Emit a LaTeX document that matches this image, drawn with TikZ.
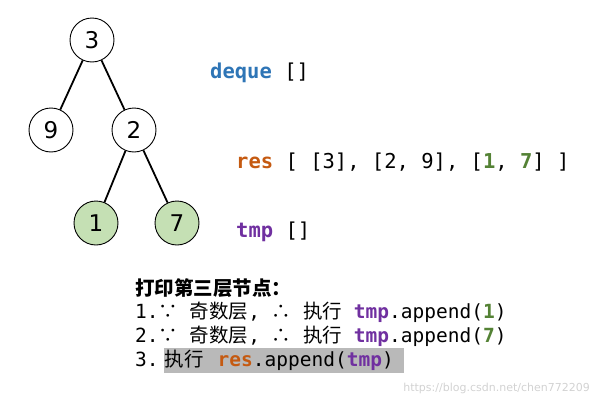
\documentclass[tikz,border=0pt]{standalone}
\usepackage{fontspec}
\setmonofont{DejaVu Sans Mono}
\setmainfont{DejaVu Sans}
\newfontfamily\cjk{Noto Sans CJK SC}
\definecolor{cblue}{HTML}{2E75B6}
\definecolor{corange}{HTML}{C55A11}
\definecolor{cpurple}{HTML}{7030A0}
\definecolor{cgreen}{HTML}{548235}
\definecolor{lgreen}{HTML}{C5E0B4}
\begin{document}
\begin{tikzpicture}[x=1pt,y=-1pt,
  tn/.style={circle,draw,line width=0.9pt,minimum size=44pt,inner sep=0pt,font=\fontsize{23}{23}\selectfont},
  gn/.style={tn,fill=lgreen},
  edge/.style={line width=1.8pt},
  lbl/.style={anchor=west,inner sep=0pt,font=\ttfamily\fontsize{20.5}{20.5}\selectfont},
  ln/.style={anchor=west,inner sep=0pt,font=\ttfamily\fontsize{19.5}{19.5}\selectfont}]
\useasboundingbox (0,0) rectangle (600,407);
\node[tn] (n3) at (92,40) {3};
\node[tn] (n9) at (51,130) {9};
\node[tn] (n2) at (134,130) {2};
\node[gn] (n1) at (96,223) {1};
\node[gn] (n7) at (177,223) {7};
\draw[edge] (n3) -- (n9);
\draw[edge] (n3) -- (n2);
\draw[edge] (n2) -- (n1);
\draw[edge] (n2) -- (n7);
\node[lbl] (dq) at (210,73) {\textbf{\color{cblue}deque} []};
\node[lbl] (rs) at (236,162) {\textbf{\color{corange}res} [ [3], [2, 9], [\textbf{\color{cgreen}1}, \textbf{\color{cgreen}7}] ]};
\node[lbl] (tp) at (236,232) {\textbf{\color{cpurple}tmp} []};
\fill[gray!55] (164,348) rectangle (404,373);
\node[ln] (l0) at (135,288) {{\cjk\bfseries 打印第三层节点：}};
\node[ln] (l1) at (135,312) {1.{\cjk ∵} {\cjk 奇数层}, {\cjk ∴} {\cjk 执行} \textbf{\color{cpurple}tmp}.append(\textbf{\color{cgreen}1})};
\node[ln] (l2) at (135,336) {2.{\cjk ∵} {\cjk 奇数层}, {\cjk ∴} {\cjk 执行} \textbf{\color{cpurple}tmp}.append(\textbf{\color{cgreen}7})};
\node[ln] (l3) at (135,360) {3.\hspace{6pt}{\cjk 执行}\hspace{14pt}\textbf{\color{corange}res}.append(\textbf{\color{cpurple}tmp})};
\node[anchor=east,inner sep=0pt,text=gray!35,font=\fontsize{11}{11}\selectfont] (wm) at (590,388) {https://blog.csdn.net/chen772209};
\end{tikzpicture}
\end{document}
